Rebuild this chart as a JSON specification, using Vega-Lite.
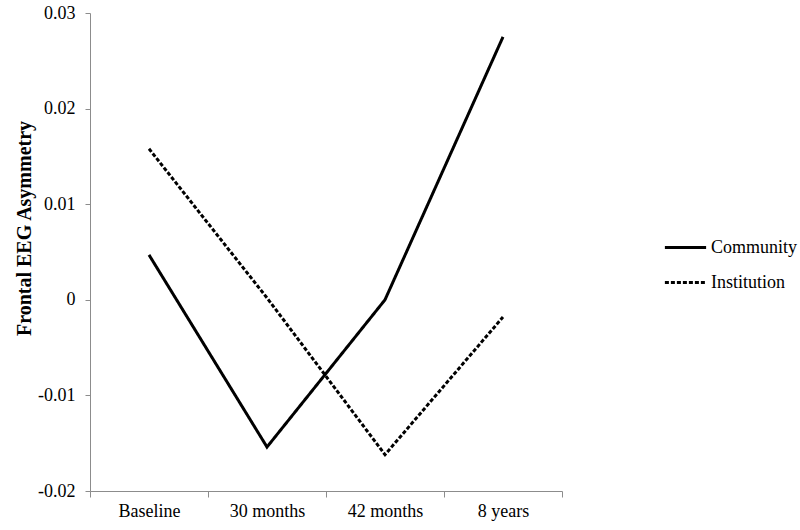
{
  "$schema": "https://vega.github.io/schema/vega-lite/v6.json",
  "autosize": "none",
  "width": 472,
  "height": 478,
  "padding": {"left": 90, "top": 13, "right": 238, "bottom": 39},
  "background": "white",
  "config": {"view": {"stroke": null}, "font": "Liberation Serif"},
  "data": {"values": [
    {"time": "Baseline", "group": "Community", "value": 0.0047},
    {"time": "30 months", "group": "Community", "value": -0.0154},
    {"time": "42 months", "group": "Community", "value": 0.0},
    {"time": "8 years", "group": "Community", "value": 0.0275},
    {"time": "Baseline", "group": "Institution", "value": 0.0158},
    {"time": "30 months", "group": "Institution", "value": 0.0002},
    {"time": "42 months", "group": "Institution", "value": -0.0162},
    {"time": "8 years", "group": "Institution", "value": -0.0018}
  ]},
  "mark": {"type": "line", "strokeWidth": 3},
  "encoding": {
    "x": {"field": "time", "type": "ordinal", "bandPosition": 0.5,
      "sort": ["Baseline", "30 months", "42 months", "8 years"],
      "scale": {"type": "band", "paddingInner": 0, "paddingOuter": 0},
      "axis": {"title": null, "labelAngle": 0, "tickBand": "extent", "domainColor": "#8c8c8c", "tickColor": "#8c8c8c", "tickSize": 6, "labelFontSize": 18, "labelColor": "black", "labelPadding": 5, "labelFont": "Liberation Serif"}},
    "y": {"field": "value", "type": "quantitative",
      "scale": {"domain": [-0.02, 0.03], "nice": false},
      "axis": {"title": "Frontal EEG Asymmetry", "titleFontSize": 20, "titleFontWeight": "bold", "titleColor": "black", "titleFont": "Liberation Serif", "titlePadding": 3, "titleY": 215, "values": [-0.02, -0.01, 0, 0.01, 0.02, 0.03], "labelExpr": "datum.value == 0 ? '0' : replace(format(datum.value, '.2f'), '\u2212', '-')", "grid": false, "domainColor": "#8c8c8c", "tickColor": "#8c8c8c", "tickSize": 5, "labelFontSize": 18, "labelColor": "black", "labelPadding": 10, "labelFont": "Liberation Serif"}},
    "color": {"field": "group", "type": "nominal", "scale": {"range": ["black", "black"]},
      "legend": {"title": null, "orient": "none", "legendX": 573, "legendY": 212, "symbolType": "stroke", "symbolSize": 1700, "symbolStrokeWidth": 3, "labelFontSize": 18, "labelFont": "Liberation Serif", "labelColor": "black", "rowPadding": 3, "labelOffset": 3}},
    "strokeDash": {"field": "group", "type": "nominal", "scale": {"range": [[1, 0], [4, 2]]}}
  }
}
